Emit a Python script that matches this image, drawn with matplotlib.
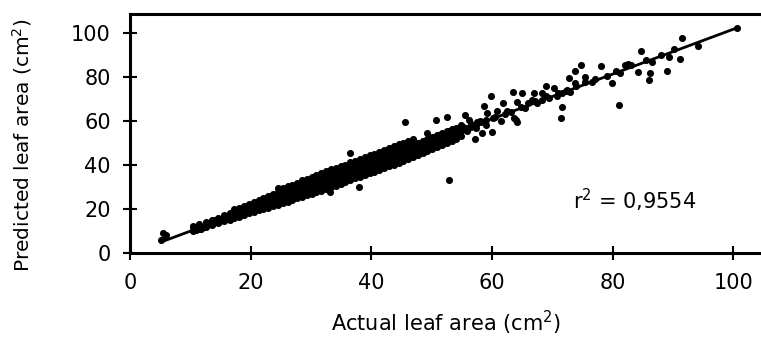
import matplotlib.pyplot as plt

# Actual vs predicted leaf area (cm2)
# scattered points (outer part of the cloud and outliers)
actual = [
    5.2, 5.5, 5.8, 6.0, 10.4, 10.9, 11.3, 11.8, 12.3, 12.9, 13.5, 14.1, 14.7, 15.2,
    15.7, 16.1, 16.6, 17.0, 17.4, 17.9, 18.3, 18.8, 19.3, 19.7, 20.2, 20.6, 21.1,
    21.5, 21.9, 22.4, 22.8, 23.3, 23.7, 24.2, 24.6, 25.0, 25.4, 25.9, 26.3, 26.7,
    27.1, 27.6, 28.0, 28.4, 28.8, 29.2, 29.7, 30.1, 30.5, 30.9, 31.3, 31.8, 32.2,
    32.6, 33.0, 33.1, 33.5, 33.9, 34.3, 34.7, 35.1, 35.6, 36.0, 36.4, 36.4, 36.8,
    37.3, 37.7, 38.0, 38.1, 38.5, 38.9, 39.4, 39.8, 40.2, 40.6, 41.0, 41.5, 41.9,
    42.3, 42.7, 43.0, 43.2, 43.6, 44.0, 44.3, 44.5, 44.9, 45.3, 45.5, 45.7, 46.1,
    46.5, 46.9, 47.3, 47.8, 48.2, 48.6, 49.0, 49.3, 49.5, 49.9, 50.3, 50.7, 50.8,
    51.2, 51.6, 52.0, 52.6, 52.8, 52.5, 53.0, 53.5, 54.0, 54.6, 55.2, 55.5, 55.8,
    56.2, 56.5, 57.2, 57.3, 58.0, 58.4, 58.7, 59.0, 59.2, 59.8, 60.0, 60.2, 60.9,
    61.5, 61.8, 62.2, 63.1, 63.4, 63.6, 63.9, 64.2, 64.2, 65.0, 65.5, 66.7, 66.9,
    67.5, 68.3, 68.3, 68.9, 69.5, 70.2, 70.8, 71.4, 71.6, 71.6, 72.2, 72.7, 73.0,
    73.7, 73.8, 74.7, 75.5, 76.5, 78.0, 79.9, 81.0, 81.3, 82.1, 82.6, 84.2, 84.7,
    86.0, 86.2, 86.5, 89.0, 89.3, 90.1, 91.1, 91.5, 94.1, 100.6,
    56.5, 57.5, 60.5, 62.5, 64.8, 66.0, 67.2, 69.0, 71.0, 72.5, 74.0, 75.5, 77.0,
    79.0, 80.5, 83.0, 85.5, 88.0,
]
predicted = [
    5.9, 9.0, 7.5, 8.2, 11.8, 10.6, 12.4, 11.0, 12.0, 13.6, 13.1, 14.9, 14.2, 15.6,
    17.0, 16.0, 17.8, 16.4, 18.9, 17.1, 19.6, 18.2, 20.5, 19.0, 21.3, 20.0, 22.1,
    22.8, 20.4, 23.5, 21.6, 24.8, 22.3, 25.6, 23.2, 26.4, 24.1, 27.3, 25.0, 28.0,
    25.9, 29.2, 26.8, 30.0, 27.7, 31.2, 28.4, 31.6, 29.6, 32.5, 30.0, 33.4, 31.0,
    34.2, 31.6, 27.9, 35.0, 32.5, 36.1, 33.3, 36.4, 34.0, 37.5, 45.6, 35.0, 38.2,
    35.8, 39.0, 30.1, 36.6, 40.1, 37.4, 41.0, 38.2, 42.0, 39.0, 43.0, 39.8, 43.6,
    40.7, 44.5, 45.3, 41.4, 45.4, 42.2, 48.6, 46.3, 43.1, 47.2, 59.4, 44.0, 48.0,
    45.0, 48.8, 46.0, 50.0, 46.8, 50.8, 47.9, 54.4, 51.6, 48.6, 52.8, 60.5, 49.8,
    53.5, 50.7, 54.2, 62.0, 33.2, 51.6, 55.3, 52.8, 56.5, 54.0, 57.5, 62.7, 55.4,
    60.5, 58.8, 51.7, 57.0, 60.0, 54.4, 66.8, 58.3, 63.5, 71.4, 55.1, 61.5, 64.7,
    60.0, 68.0, 63.0, 64.2, 73.3, 61.2, 60.5, 59.7, 68.8, 72.6, 66.0, 69.5, 72.6,
    68.0, 72.6, 69.5, 75.9, 70.5, 75.1, 71.5, 61.2, 72.6, 66.5, 73.8, 79.4, 73.3,
    82.7, 77.1, 85.5, 80.1, 77.5, 85.0, 77.1, 67.3, 81.7, 85.5, 85.8, 82.1, 91.8,
    78.6, 82.0, 87.0, 82.7, 89.2, 92.6, 88.2, 97.9, 94.2, 102.1,
    58.0, 59.5, 62.0, 64.5, 66.5, 68.2, 69.0, 71.5, 72.5, 74.0, 76.0, 77.5, 79.0,
    80.5, 82.5, 85.5, 87.5, 90.0,
]

# the dense band of points along the 1:1 line
band_actual = [
    10.5, 10.5, 11.5, 11.5, 12.5, 12.5, 13.5, 13.5, 14.5, 14.5, 15.5, 15.5, 16.5, 16.5,
    17.3, 17.3, 17.3, 18.1, 18.1, 18.1, 18.9, 18.9, 18.9, 19.7, 19.7, 19.7,
    20.5, 20.5, 20.5, 21.3, 21.3, 21.3, 22.1, 22.1, 22.1, 22.9, 22.9, 22.9,
    23.7, 23.7, 23.7, 24.5, 24.5, 24.5, 24.5, 25.3, 25.3, 25.3, 25.3,
    26.1, 26.1, 26.1, 26.1, 26.9, 26.9, 26.9, 26.9, 27.7, 27.7, 27.7, 27.7,
    28.5, 28.5, 28.5, 28.5, 29.3, 29.3, 29.3, 29.3, 30.1, 30.1, 30.1, 30.1,
    30.9, 30.9, 30.9, 30.9, 31.7, 31.7, 31.7, 31.7, 32.5, 32.5, 32.5, 32.5,
    33.3, 33.3, 33.3, 33.3, 34.1, 34.1, 34.1, 34.1, 34.9, 34.9, 34.9, 34.9,
    35.7, 35.7, 35.7, 35.7, 36.5, 36.5, 36.5, 36.5, 37.3, 37.3, 37.3, 37.3,
    38.1, 38.1, 38.1, 38.1, 38.9, 38.9, 38.9, 38.9, 39.7, 39.7, 39.7, 39.7,
    40.5, 40.5, 40.5, 40.5, 41.3, 41.3, 41.3, 41.3, 42.1, 42.1, 42.1, 42.1,
    42.9, 42.9, 42.9, 42.9, 43.7, 43.7, 43.7, 43.7, 44.5, 44.5, 44.5, 44.5,
    45.3, 45.3, 45.3, 45.3, 46.1, 46.1, 46.1, 46.1, 46.9, 46.9, 46.9, 46.9,
    47.7, 47.7, 47.7, 48.5, 48.5, 48.5, 49.3, 49.3, 49.3, 50.1, 50.1, 50.1,
    50.9, 50.9, 50.9, 51.7, 51.7, 51.7, 52.5, 52.5, 52.5, 53.3, 53.3, 53.3,
    54.1, 54.1, 54.1, 54.9, 54.9, 54.9, 55.7, 56.5, 57.3, 58.1, 59.0,
]
band_predicted = [
    10.0, 12.2, 11.0, 13.0, 11.8, 14.0, 12.8, 15.0, 13.6, 15.8, 14.5, 17.2, 15.2, 18.4,
    16.0, 18.2, 20.0, 16.6, 19.0, 20.6, 17.4, 19.8, 21.2, 18.0, 20.4, 22.4,
    18.6, 21.3, 23.2, 19.5, 21.8, 24.0, 20.0, 22.7, 25.1, 20.6, 23.5, 26.0,
    21.4, 24.4, 26.8, 22.0, 25.0, 27.6, 29.5, 22.6, 25.2, 27.4, 29.6,
    23.2, 26.0, 28.6, 30.4, 24.1, 26.8, 29.4, 31.0, 24.8, 27.5, 30.1, 32.0,
    25.5, 28.4, 31.0, 33.1, 26.2, 29.0, 31.8, 33.8, 27.0, 29.9, 32.6, 34.7,
    27.8, 30.6, 33.2, 35.6, 28.4, 31.4, 34.0, 36.4, 29.1, 32.3, 34.9, 37.2,
    30.0, 33.0, 35.6, 38.0, 30.7, 33.8, 36.4, 38.6, 31.5, 34.5, 37.3, 39.6,
    32.4, 35.4, 38.1, 40.2, 33.0, 36.1, 38.8, 41.3, 33.9, 36.9, 39.6, 42.0,
    34.6, 37.8, 40.5, 42.8, 35.5, 38.5, 41.2, 43.6, 36.2, 39.3, 42.0, 44.5,
    37.0, 40.2, 42.9, 45.2, 37.8, 40.9, 43.8, 46.0, 38.7, 41.8, 44.5, 47.0,
    39.4, 42.6, 45.4, 47.8, 40.2, 43.4, 46.2, 48.5, 41.0, 44.2, 47.0, 49.4,
    41.9, 45.0, 47.8, 50.2, 42.8, 45.8, 48.6, 51.0, 43.7, 46.7, 49.4, 51.8,
    44.6, 47.6, 50.2, 45.4, 48.4, 51.1, 46.4, 49.3, 52.0, 47.2, 50.1, 52.8,
    48.2, 51.0, 53.7, 49.0, 51.9, 54.6, 50.0, 52.8, 55.4, 51.0, 53.6, 56.3,
    52.0, 54.6, 57.0, 53.2, 55.6, 58.0, 56.6, 57.5, 58.2, 59.4, 60.5,
]

# regression line end points
fit_x = [5.2, 100.7]
fit_y = [5.1, 102.4]

xticks = [0, 20, 40, 60, 80, 100]
yticks = [0, 20, 40, 60, 80, 100]

plt.rcParams['font.family'] = ['DejaVu Sans']

fig = plt.figure(figsize=(7.61, 3.42), dpi=100)
ax = fig.add_axes([0.171, 0.260, 0.829, 0.699])

ax.scatter(band_actual, band_predicted, s=26, color='black', linewidths=0, zorder=3)
ax.scatter(actual, predicted, s=26, color='black', linewidths=0, zorder=3)
ax.plot(fit_x, fit_y, color='black', lw=2.0, zorder=4)

ax.set_xlim(0, 104.6)
ax.set_ylim(0, 108.6)
ax.set_xticks(xticks)
ax.set_yticks(yticks)
ax.tick_params(direction='inout', length=10, width=1.5, labelsize=15, pad=9)

for side in ['left', 'bottom', 'top']:
    ax.spines[side].set_linewidth(2.2)
ax.spines['right'].set_visible(False)

ax.set_xlabel('Actual leaf area (cm$^2$)', fontsize=15, labelpad=12)
ax.set_ylabel('Predicted leaf area (cm$^2$)', fontsize=14.5)
ax.yaxis.set_label_coords(-0.152, 0.45)

ax.text(83.6, 24.1, 'r$^2$ = 0,9554', fontsize=15, ha='center', va='center')

fig.savefig('out.png', dpi=100)
